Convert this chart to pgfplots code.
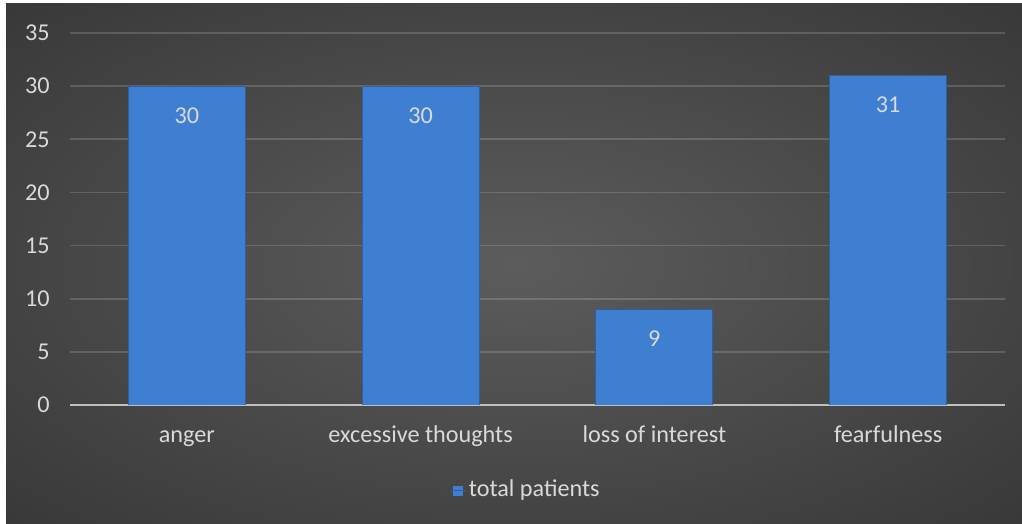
\documentclass[border=0pt]{standalone}
\usepackage{fontspec}
\setmainfont{Carlito}
\usepackage{pgfplots}
\pgfplotsset{compat=1.18}
\definecolor{barblue}{HTML}{3F7FD2}
\definecolor{txt}{HTML}{D9D9D9}
\definecolor{bgc}{HTML}{5C5C5C}
\definecolor{bge}{HTML}{2A2A2A}
\definecolor{bgk}{HTML}{222222}
\definecolor{axisgray}{HTML}{BFBFBF}
\pgfdeclareradialshading{bgshade}{\pgfpoint{0bp}{0bp}}{color(0bp)=(bgc); color(50bp)=(bge); color(72bp)=(bgk)}
\begin{document}
\fontsize{24.2bp}{28bp}\selectfont
\begin{tikzpicture}
\fill[white] (0bp,0bp) rectangle (1022bp,524bp);
\shade[shading=bgshade] (6bp,0bp) rectangle (1022bp,520bp);
\begin{axis}[
  at={(70bp,119bp)}, anchor=south west,
  scale only axis, width=935bp, height=372bp,
  ymin=0, ymax=35, xmin=-0.5, xmax=3.5,
  ytick={0,5,...,35},
  xtick={0,1,2,3},
  xticklabels={anger, excessive thoughts, loss of interest, fearfulness},
  /pgf/number format/assume math mode=true,
  axis line style={draw=none},
  tick style={draw=none},
  major tick length=0pt,
  ymajorgrids,
  grid style={draw=white, opacity=0.16, line width=1.6bp},
  extra y ticks={0},
  extra y tick labels={},
  extra y tick style={grid style={draw=axisgray, opacity=1, line width=2.4bp}},
  yticklabel style={text=txt, xshift=-12bp},
  xticklabel style={text=txt, yshift=-12bp, text height=17bp, text depth=5bp},
  ybar, bar width=0.5,
  nodes near coords,
  nodes near coords align={below},
  every node near coord/.append style={text=txt, yshift=-13bp},
  legend style={at={(0.488,-0.2285)}, anchor=center, draw=none, fill=none, text=txt},
  legend image code/.code={\fill[barblue] (2bp,-5bp) rectangle (11bp,4bp); \path (0bp,0bp) -- (15bp,0bp);},
]
\addplot[fill=barblue, draw=barblue!75!black, line width=1bp] coordinates {(0,30) (1,30) (2,9) (3,31)};
\addlegendentry{total patients}
\end{axis}
\end{tikzpicture}
\end{document}
